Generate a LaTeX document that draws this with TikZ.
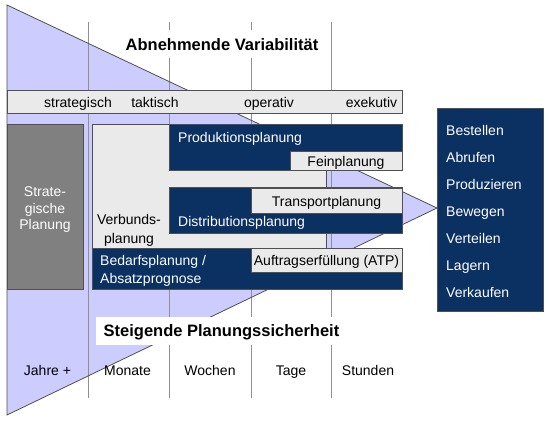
\documentclass[tikz,border=0pt]{standalone}
\usepackage{fontspec}
\setmainfont{Liberation Sans}
\definecolor{navy}{HTML}{0B3062}
\definecolor{lav}{HTML}{CCCCFF}
\definecolor{lgray}{HTML}{EAEAEA}
\definecolor{dgray}{HTML}{808080}
\definecolor{edge}{HTML}{505050}
\definecolor{colline}{HTML}{909090}
\begin{document}
\begin{tikzpicture}[x=1pt,y=-1pt,
  font=\fontsize{14}{16}\selectfont,
  box/.style={draw=edge,line width=0.8pt,inner sep=0pt,anchor=north west},
  bluebox/.style={box,fill=navy},
  graybox/.style={box,fill=lgray},
  darkbox/.style={box,fill=dgray},
  txt/.style={inner sep=0pt,text height=10pt,text depth=0pt},
  wtxt/.style={txt,text=white},
  btxt/.style={inner sep=0pt,font=\fontsize{16.5}{18}\selectfont\bfseries,text height=12pt,text depth=0pt},
  whitebg/.style={fill=white,inner ysep=0pt,minimum height=28pt},
  colline/.style={draw=colline,line width=1pt}]
\useasboundingbox (0,0) rectangle (549,421);
% big triangle
\coordinate (t1) at (7,5);
\coordinate (t2) at (7,415);
\coordinate (tip) at (437,208);
\fill[lav] (t1) -- (tip) -- (t2) -- cycle;
% column lines
\foreach \n/\x in {a/88,b/169,c/251,d/331.5}{
  \coordinate (\n top) at (\x,22);
  \coordinate (\n bot) at (\x,398);
  \draw[colline] (\n top) -- (\n bot);
}
% headline labels
\node[btxt,whitebg,inner xsep=3pt] (abn) at (222,44) {Abnehmende Variabilität};
\draw[draw=edge,line width=0.8pt] (t1) -- (tip) -- (t2) -- cycle;
\node[btxt,whitebg,inner xsep=3pt] (stg) at (219,330.5) {\hspace{5pt}Steigende Planungssicherheit};
% phase bar
\node[graybox,minimum width=395pt,minimum height=23pt] (bar) at (7,90) {};
\node[txt] (strat) at (78,102) {strategisch};
\node[txt] (takt) at (155,102) {taktisch};
\node[txt] (oper) at (269,102) {operativ};
\node[txt] (exek) at (371.5,102) {exekutiv};
% boxes
\node[darkbox,minimum width=76pt,minimum height=165pt] (sp) at (7,124) {};
\node[text=white,inner sep=0pt,align=center,font=\fontsize{14}{16.5}\selectfont] (spt) at (45,210) {Strate-\\gische\\Planung};
\node[graybox,minimum width=234pt,minimum height=165pt] (vb) at (92,124) {};
\node[inner sep=0pt,align=center,font=\fontsize{14}{19}\selectfont] (vbt) at (129,230) {Verbunds-\\planung};
\node[bluebox,minimum width=233pt,minimum height=46pt] (prod) at (169,124) {};
\node[wtxt,anchor=west] (prodt) at (178,137.5) {Produktionsplanung};
\node[graybox,minimum width=112pt,minimum height=19pt] (fein) at (290,151) {};
\node[txt] (feint) at (346,161) {Feinplanung};
\node[bluebox,minimum width=233pt,minimum height=46pt] (dist) at (169,187) {};
\node[wtxt,anchor=west] (distt) at (178,221.5) {Distributionsplanung};
\node[graybox,minimum width=151pt,minimum height=25pt] (trans) at (251,187.5) {};
\node[txt] (transt) at (326.5,201) {Transportplanung};
\node[bluebox,minimum width=310pt,minimum height=41.5pt] (bed) at (92,247.5) {};
\node[wtxt,anchor=west] (bedt1) at (100,260) {Bedarfsplanung /};
\node[wtxt,anchor=west] (bedt2) at (100,278) {Absatzprognose};
\node[graybox,minimum width=151pt,minimum height=24.5pt] (atp) at (251,247.5) {};
\node[txt] (atpt) at (326.5,260) {Auftragserfüllung (ATP)};
% right box
\node[bluebox,minimum width=106pt,minimum height=203pt] (act) at (437,108) {};
\foreach \n/\t/\y in {a1/Bestellen/130,a2/Abrufen/157,a3/Produzieren/184,a4/Bewegen/211,a5/Verteilen/238,a6/Lagern/265,a7/Verkaufen/292}{
  \node[wtxt,anchor=west] (\n) at (446,\y) {\t};
}
% time labels
\node[txt] (j) at (47.5,370.5) {Jahre +};
\node[txt] (m) at (127.5,370.5) {Monate};
\node[txt] (w) at (210,370.5) {Wochen};
\node[txt] (tg) at (291,370.5) {Tage};
\node[txt] (st) at (368,370.5) {Stunden};
\end{tikzpicture}
\end{document}
